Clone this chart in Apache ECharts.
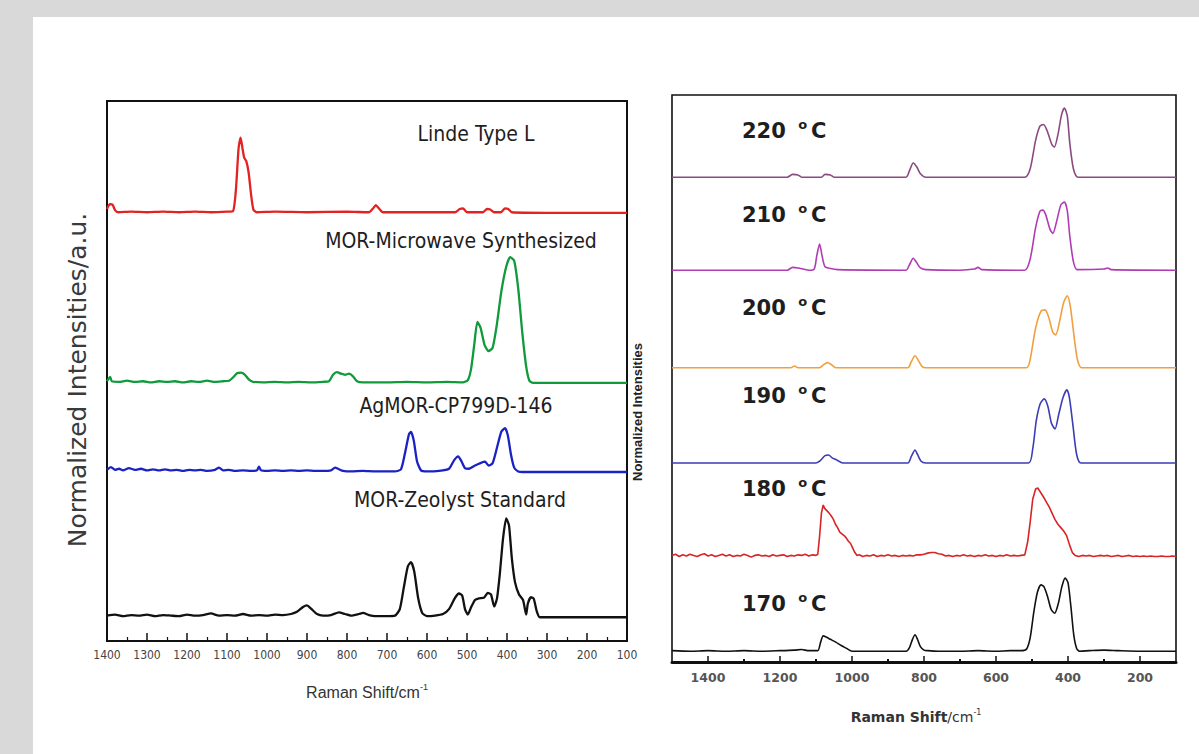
<!DOCTYPE html>
<html><head><meta charset="utf-8">
<script src="https://cdn.jsdelivr.net/npm/echarts@6/dist/echarts.min.js"></script>
<style>
html,body{margin:0;padding:0;background:#d9d9d9;overflow:hidden;}
#panel{position:absolute;left:33px;top:17px;width:1166px;height:737px;background:#fff;}
#c{position:absolute;left:0;top:0;width:1199px;height:754px;}
</style>
</head><body><div id="panel"></div><div id="c"></div>
<script>
// ---------- LEFT PANEL DATA: [Raman shift (cm-1), normalized intensity above baseline] ----------
const leftNames = ['Linde Type L', 'MOR-Microwave Synthesized', 'AgMOR-CP799D-146', 'MOR-Zeolyst Standard'];
const leftOffsets = [79.3, 47.8, 31.3, 4.4];
const lindeTypeL = [[1400,0.7],[1393,1.6],[1386,1.5],[1380,0.5],[1372,0.1],[1340,0.2],[1300,0.1],[1260,0.2],[1220,0.1],[1180,0.2],[1140,0.1],[1100,0.2],[1085,0.3],[1078,4.0],[1071,12.0],[1066,13.9],[1061,11.8],[1057,10.2],[1052,9.6],[1046,7.5],[1040,3.5],[1034,0.6],[1026,0.1],[980,0.2],[900,0.1],[800,0.2],[745,0.1],[735,0.8],[728,1.4],[720,0.8],[710,0.1],[600,0.1],[530,0.1],[518,0.7],[510,0.8],[500,0.1],[460,0.1],[450,0.7],[442,0.6],[432,0.1],[415,0.1],[405,0.8],[397,0.7],[388,0.1],[300,0],[100,0]];
const morMicrowave = [[1400,0.3],[1392,1.1],[1388,0.3],[1370,0.2],[1350,0.4],[1330,0.2],[1310,0.3],[1290,0.1],[1270,0.3],[1250,0.2],[1230,0.3],[1210,0.1],[1190,0.3],[1170,0.2],[1150,0.4],[1130,0.2],[1110,0.3],[1095,0.4],[1085,1.0],[1075,1.8],[1065,1.9],[1055,1.5],[1045,0.6],[1035,0.2],[1010,0.1],[980,0.2],[950,0.1],[920,0.2],[890,0.1],[860,0.2],[845,0.3],[835,1.5],[825,2.0],[815,1.7],[805,1.5],[795,1.7],[785,1.2],[775,0.3],[760,0.1],[700,0.1],[650,0.2],[600,0.1],[550,0.2],[510,0.1],[498,0.5],[490,2.5],[482,7.0],[474,11.3],[466,10.2],[456,7.0],[446,5.9],[436,6.5],[426,10.5],[414,17.0],[402,21.5],[392,23.3],[382,22.6],[372,17.5],[362,9.5],[352,3.0],[344,0.4],[335,0],[100,0]];
const agMOR = [[1400,0.4],[1390,0.9],[1380,0.4],[1370,0.6],[1360,0.3],[1345,0.7],[1330,0.4],[1315,0.6],[1300,0.3],[1285,0.5],[1270,0.3],[1255,0.5],[1240,0.3],[1225,0.4],[1210,0.2],[1195,0.4],[1180,0.3],[1165,0.4],[1150,0.2],[1130,0.4],[1120,0.8],[1110,0.3],[1095,0.4],[1080,0.2],[1060,0.3],[1040,0.2],[1025,0.3],[1020,1.0],[1015,0.3],[1000,0.2],[980,0.3],[960,0.2],[940,0.3],[920,0.2],[900,0.3],[880,0.2],[860,0.2],[840,0.3],[830,0.8],[820,0.5],[810,0.2],[790,0.1],[760,0.2],[730,0.1],[700,0.1],[680,0.1],[665,0.5],[655,3.5],[645,7.0],[640,7.4],[633,5.8],[625,2.0],[615,0.3],[600,0.1],[570,0.2],[545,0.6],[532,2.2],[522,2.9],[514,2.0],[505,0.7],[495,0.6],[480,1.2],[465,1.7],[455,1.9],[446,1.2],[436,1.6],[424,4.8],[414,7.5],[405,8.1],[398,6.8],[390,3.2],[382,0.8],[372,0.1],[360,0],[100,0]];
const morZeolyst = [[1400,0.3],[1380,0.5],[1360,0.2],[1340,0.4],[1320,0.3],[1300,0.5],[1280,0.2],[1260,0.4],[1240,0.3],[1220,0.2],[1200,0.5],[1180,0.3],[1160,0.4],[1140,0.7],[1120,0.3],[1100,0.4],[1080,0.3],[1060,0.6],[1040,0.3],[1020,0.4],[1000,0.3],[980,0.5],[960,0.4],[940,0.6],[925,1.0],[910,1.9],[900,2.2],[890,1.6],[875,0.6],[860,0.3],[840,0.4],[820,0.9],[805,0.6],[790,0.3],[770,0.6],[760,0.8],[745,0.4],[730,0.2],[700,0.2],[680,0.3],[668,1.5],[658,5.5],[648,9.4],[640,10.2],[632,8.5],[622,3.5],[612,0.8],[600,0.2],[580,0.3],[560,0.6],[545,1.5],[530,3.6],[520,4.4],[512,4.0],[505,1.5],[498,0.5],[490,1.8],[480,3.2],[470,3.5],[458,3.6],[448,4.5],[440,4.2],[432,2.0],[425,3.5],[418,8.0],[410,14.5],[402,18.3],[395,17.0],[388,11.0],[380,6.5],[370,4.2],[360,3.2],[352,0.5],[348,2.5],[340,3.7],[333,3.4],[326,1.2],[318,0],[100,0]];
const leftSpectra = [lindeTypeL, morMicrowave, agMOR, morZeolyst];
const leftColors = ['#e32222', '#109a3c', '#1b22c4', '#111111'];

// ---------- RIGHT PANEL DATA ----------
const rightNames = ['220', '210', '200', '190', '180', '170'];
const rightOffsets = [85.5, 69.1, 51.9, 35.1, 18.7, 1.8];
const t220 = [[1500,0],[1180,0],[1165,0.5],[1150,0.4],[1140,0],[1085,0],[1075,0.5],[1060,0.4],[1050,0],[850,0],[840,1.2],[830,2.5],[820,1.8],[810,0.6],[795,0],[520,0],[505,1.5],[490,6.5],[478,9.0],[468,9.3],[458,8.2],[445,5.8],[438,5.3],[428,7.5],[418,11.0],[410,12.2],[402,10.8],[395,6.0],[385,1.5],[372,0],[100,0]];
const t210 = [[1500,0],[1180,0],[1165,0.5],[1150,0.4],[1120,0],[1105,0.2],[1098,2.5],[1090,4.6],[1083,2.5],[1075,0.6],[1060,0.3],[1040,0.1],[850,0],[840,1.0],[830,2.1],[820,1.3],[810,0.4],[795,0.1],[700,0],[660,0.2],[650,0.5],[640,0.1],[520,0],[505,2.0],[490,7.5],[478,10.4],[470,10.6],[462,9.8],[450,7.2],[442,6.5],[432,8.5],[420,11.5],[410,12.0],[402,10.5],[395,6.0],[385,1.5],[375,0.1],[300,0.2],[290,0.4],[280,0.1],[100,0]];
const t200 = [[1500,0],[1170,0],[1160,0.3],[1150,0],[1090,0],[1078,0.6],[1068,0.9],[1058,0.6],[1045,0],[845,0],[835,1.1],[825,2.1],[815,1.2],[805,0.2],[795,0],[515,0],[505,1.5],[490,7.0],[475,10.0],[464,10.2],[454,9.0],[442,6.2],[434,5.8],[424,8.0],[412,11.5],[402,12.7],[394,11.0],[385,6.5],[374,1.5],[362,0],[100,0]];
const t190 = [[1500,0],[1100,0],[1088,0.4],[1075,1.3],[1065,1.4],[1055,0.9],[1045,0.6],[1030,0.1],[1020,0],[845,0],[835,1.2],[825,2.3],[818,1.5],[808,0.3],[795,0],[510,0],[498,2.5],[488,7.5],[477,10.5],[466,11.3],[456,10.0],[446,7.0],[436,6.0],[426,8.5],[414,11.5],[403,12.9],[396,11.5],[386,6.5],[376,1.5],[364,0],[100,0]];
const t180 = [[1500,0.1],[1490,0.3],[1480,-0.1],[1470,0.2],[1460,0],[1450,0.3],[1440,0.1],[1430,-0.1],[1420,0.2],[1410,0.4],[1400,0],[1390,0.2],[1380,-0.1],[1370,0.1],[1360,0.3],[1350,0],[1340,0.2],[1330,-0.1],[1320,0.1],[1310,0],[1300,0.3],[1290,0.1],[1280,-0.2],[1270,0.1],[1260,0.2],[1250,0],[1240,0.1],[1230,-0.1],[1220,0.2],[1210,0],[1200,0.1],[1190,0.2],[1180,-0.1],[1170,0.1],[1160,0],[1150,0.2],[1140,0.1],[1130,0.3],[1120,0],[1110,0.2],[1100,0.1],[1095,0.3],[1090,3.5],[1085,7.5],[1080,9.0],[1076,8.4],[1070,8.0],[1064,7.6],[1058,7.1],[1052,6.5],[1046,5.6],[1040,5.0],[1034,4.2],[1028,3.9],[1022,3.6],[1016,3.2],[1010,2.6],[1004,2.2],[998,1.4],[992,0.6],[986,0.1],[980,0.2],[970,-0.1],[960,0.1],[950,0],[940,0.2],[930,-0.1],[920,0.1],[910,0],[900,0.2],[890,0],[880,0.1],[870,-0.1],[860,0.1],[850,0],[840,0.1],[830,0],[820,0.2],[810,0.2],[800,0.3],[790,0.5],[780,0.6],[770,0.6],[760,0.4],[750,0.3],[740,0],[730,0.1],[720,-0.1],[710,0.1],[700,0],[690,0.2],[680,0],[670,0.1],[660,-0.1],[650,0.1],[640,0],[630,0.2],[620,0],[610,0.1],[600,-0.1],[590,0.1],[580,0],[570,0.2],[560,0],[550,0.1],[540,0],[530,0.1],[520,0.2],[512,2.5],[505,6.0],[498,10.0],[490,11.8],[484,12.0],[476,11.2],[468,10.4],[460,9.5],[452,8.6],[444,7.5],[436,6.4],[428,5.6],[420,5.0],[412,4.4],[404,3.6],[396,2.0],[388,0.6],[380,0.1],[370,-0.1],[360,0.1],[350,0],[340,0.1],[330,-0.1],[320,0],[310,0.1],[300,0],[290,0.1],[280,-0.1],[270,0],[260,0.1],[250,-0.1],[240,0],[230,0.1],[220,-0.1],[210,0],[200,-0.1],[190,0],[180,-0.1],[170,0],[160,-0.1],[150,-0.1],[140,0],[130,-0.1],[120,-0.1],[110,0],[100,-0.1]];
const t170 = [[1500,0.2],[1450,0.1],[1400,0.2],[1350,0.1],[1300,0.2],[1250,0.1],[1200,0.2],[1160,0.3],[1140,0.4],[1120,0.2],[1095,0.2],[1088,1.5],[1080,2.8],[1072,2.6],[1060,2.2],[1045,1.7],[1030,1.1],[1015,0.6],[1000,0.1],[980,0.1],[900,0.1],[850,0.1],[840,0.8],[832,2.2],[825,3.0],[818,2.2],[810,0.9],[800,0.3],[790,0.2],[760,0.1],[700,0.1],[650,0.2],[600,0.1],[560,0.2],[530,0.2],[515,0.5],[505,2.5],[495,7.0],[485,10.5],[475,11.8],[467,11.5],[457,9.8],[447,7.5],[437,6.8],[427,8.5],[417,11.5],[408,13.0],[400,12.2],[392,8.0],[384,3.0],[376,0.6],[368,0.1],[340,0.2],[300,0.3],[260,0.2],[200,0.1],[150,0.1],[100,0.1]];
const rightSpectra = [t220, t210, t200, t190, t180, t170];
const rightColors = ['#8a4a80', '#b03cb4', '#f0a040', '#3c3cb4', '#d82424', '#111111'];
const rightTickValues = [200, 400, 600, 800, 1000, 1200, 1400];
const rightMinorTickValues = [300, 500, 700, 900, 1100, 1300];

const chart = echarts.init(document.getElementById('c'), null, {renderer: 'svg'});

const series = [];
leftSpectra.forEach((arr, i) => {
  series.push({
    name: leftNames[i], type: 'line', xAxisIndex: 0, yAxisIndex: 0,
    data: arr.map(p => [p[0], leftOffsets[i] + p[1]]),
    showSymbol: false, symbol: 'none', smooth: 0.2,
    lineStyle: {color: leftColors[i], width: 2.3}, itemStyle: {color: leftColors[i]},
    animation: false, z: 3
  });
});
rightSpectra.forEach((arr, i) => {
  series.push({
    name: rightNames[i] + ' °C', type: 'line', xAxisIndex: 1, yAxisIndex: 1,
    data: arr.map(p => [p[0], rightOffsets[i] + p[1]]),
    showSymbol: false, symbol: 'none', smooth: i === 4 ? false : 0.25,
    lineStyle: {color: rightColors[i], width: 1.6}, itemStyle: {color: rightColors[i]},
    animation: false, z: 3
  });
});

const labelFont = "'Liberation Sans Narrow', 'DejaVu Sans Condensed', 'Roboto Condensed', 'Liberation Sans', sans-serif";
const leftLabelPos = [[476, 134], [461, 241], [456, 406], [460, 500]];
const rightLabelY = [131, 215, 308, 396, 489, 604];
const plain = v => String(v);

const graphics = [];
leftNames.forEach((n, i) => {
  graphics.push({type: 'text', x: leftLabelPos[i][0], y: leftLabelPos[i][1], z: 10,
    style: {text: n, fontSize: 21, fontFamily: labelFont, fill: '#1e1e1e', align: 'center', verticalAlign: 'middle'}});
});
rightNames.forEach((n, i) => {
  graphics.push({type: 'text', x: 742, y: rightLabelY[i], z: 10,
    style: {text: n + ' {sup|o}C', fontSize: 21, fontWeight: 'bold', fontFamily: "'DejaVu Sans', sans-serif",
      fill: '#1e1e1e', align: 'left', verticalAlign: 'middle', lineHeight: 26,
      rich: {sup: {fontSize: 13, fontWeight: 'bold', fontFamily: "'DejaVu Sans', sans-serif", fill: '#1e1e1e', verticalAlign: 'top', lineHeight: 14, padding: [0, 4, 0, 5]}}}});
});
// axis titles
graphics.push({type: 'text', x: 77, y: 380, rotation: Math.PI / 2, z: 10,
  style: {text: 'Normalized Intensities/a.u.', fontSize: 25, fontFamily: "'DejaVu Sans', sans-serif", fill: '#3a3a3a', align: 'center', verticalAlign: 'middle'}});
graphics.push({type: 'text', x: 367, y: 692, z: 10,
  style: {text: 'Raman Shift/cm{sup|-1}', fontSize: 16, fontFamily: "'Liberation Sans', Arial, sans-serif", fill: '#333', align: 'center', verticalAlign: 'middle', lineHeight: 20,
    rich: {sup: {fontSize: 9, fontFamily: "'Liberation Sans', Arial, sans-serif", fill: '#333', verticalAlign: 'top', lineHeight: 10}}}});
graphics.push({type: 'text', x: 637, y: 412, rotation: Math.PI / 2, z: 10,
  style: {text: 'Normalized Intensities', fontSize: 13, fontWeight: 'bold', fontFamily: "'Liberation Sans', Arial, sans-serif", fill: '#222', align: 'center', verticalAlign: 'middle'}});
graphics.push({type: 'text', x: 916, y: 717, z: 10,
  style: {text: '{b|Raman Shift}/cm{sup|-1}', fontSize: 14, fontFamily: "'DejaVu Sans', sans-serif", fill: '#333', align: 'center', verticalAlign: 'middle', lineHeight: 18,
    rich: {b: {fontSize: 14, fontWeight: 'bold', fontFamily: "'DejaVu Sans', sans-serif", fill: '#333'},
           sup: {fontSize: 8, fontFamily: "'DejaVu Sans', sans-serif", fill: '#333', verticalAlign: 'top', lineHeight: 9}}}});

const option = {
  backgroundColor: 'transparent',
  animation: false,
  grid: [
    {left: 107, top: 101, width: 520, height: 540, show: true, borderColor: '#111', borderWidth: 2, backgroundColor: 'transparent'},
    {left: 672, top: 95, width: 504, height: 567, show: true, borderColor: '#111', borderWidth: 1.6, backgroundColor: 'transparent'}
  ],
  xAxis: [
    {gridIndex: 0, type: 'value', min: 100, max: 1400, interval: 100, inverse: true, position: 'bottom',
      axisLine: {show: true, lineStyle: {color: '#111', width: 2}},
      axisTick: {show: true, inside: true, length: 8, lineStyle: {color: '#111', width: 1.5}},
      minorTick: {show: true, splitNumber: 2, length: 4, lineStyle: {color: '#111', width: 1.2}},
      axisLabel: {formatter: plain, fontSize: 12, fontFamily: labelFont, color: '#444', margin: 8, showMinLabel: true, showMaxLabel: true},
      splitLine: {show: false}, minorSplitLine: {show: false}},
    {gridIndex: 1, type: 'value', min: 100, max: 1500, inverse: true, position: 'bottom',
      axisLine: {show: true, lineStyle: {color: '#111', width: 3}},
      axisTick: {show: true, inside: true, length: 6, customValues: rightTickValues, lineStyle: {color: '#111', width: 1.5}},
      axisLabel: {customValues: rightTickValues, formatter: plain, fontSize: 12.5, fontWeight: 'bold', fontFamily: "'DejaVu Sans', sans-serif", color: '#555', margin: 9},
      splitLine: {show: false}},
    {gridIndex: 1, type: 'value', min: 100, max: 1500, inverse: true, position: 'bottom', offset: 0,
      axisLine: {show: false},
      axisTick: {show: true, inside: true, length: 3, customValues: rightMinorTickValues, lineStyle: {color: '#111', width: 2}},
      axisLabel: {show: false}, splitLine: {show: false}}
  ],
  yAxis: [
    {gridIndex: 0, type: 'value', min: 0, max: 100, show: false},
    {gridIndex: 1, type: 'value', min: 0, max: 100, show: false}
  ],
  series: series,
  graphic: graphics
};
chart.setOption(option);
</script></body></html>
